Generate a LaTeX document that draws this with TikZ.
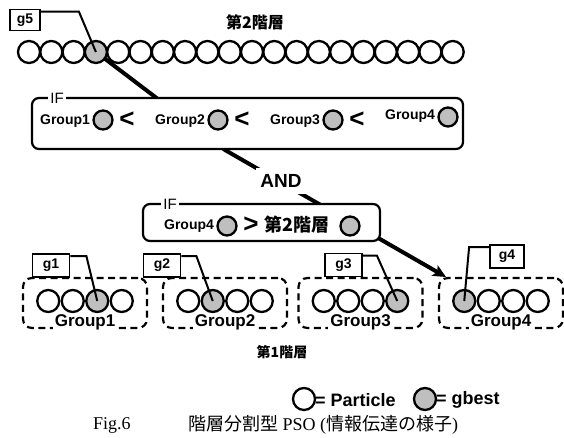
\documentclass[tikz,border=0pt]{standalone}
\usepackage{fontspec}
\setmainfont{Liberation Serif}
\newfontfamily\arial{Liberation Sans}
\newfontfamily\jp{Noto Sans CJK JP}
\usetikzlibrary{arrows.meta,calc}
\begin{document}
\begin{tikzpicture}[x=1pt,y=-1pt,
  fs/.style={font=\arial\bfseries\fontsize{#1}{#1}\selectfont, inner sep=0pt},
  jpfs/.style={font=\jp\bfseries\fontsize{#1}{#1}\selectfont, inner sep=0pt},
  part/.style={circle, draw, line width=2.3pt, minimum size=#1, inner sep=0pt, fill=white},
  part/.default=22pt,
  gbst/.style={part=#1, fill=gray!50},
  gbst/.default=22pt,
  gboxs/.style={draw, line width=1.8pt, minimum width=37pt, minimum height=23pt, inner sep=0pt, font=\arial\bfseries\fontsize{14}{14}\selectfont, fill=white},
  grp/.style={draw, rounded corners=9pt, line width=2.2pt, dash pattern=on 7pt off 4.5pt, minimum width=124pt, minimum height=50pt, inner sep=0pt},
  ifbox/.style={draw, rounded corners=7pt, line width=2.2pt, fill=white, inner sep=0pt},
  iflab/.style={fill=white, font=\arial\fontsize{15}{15}\selectfont, inner sep=2pt},
  gline/.style={line width=2pt},
  bigarrow/.style={line width=4pt, -{Stealth[length=13pt,width=12pt,inset=3pt]}},
]
\useasboundingbox (0,0) rectangle (564,438);

% main thick arrow (drawn first, hidden behind boxes)
\coordinate (bend) at (225,150);
\coordinate (tip) at (446,277);
\node[inner sep=0pt] (start) at (96,52) {};
\draw[bigarrow] (start.center) -- (bend) -- (tip);

% top level particles
\foreach \i in {0,...,19}{
  \ifnum\i=3
    \node[gbst] (t\i) at (29+22.3*\i,52) {};
  \else
    \node[part] (t\i) at (29+22.3*\i,52) {};
  \fi
}
\node[jpfs=16] (lv2) at (255,22) {第2階層};

% g5
\node[gboxs, minimum width=30pt, minimum height=21pt] (g5) at (25,20) {g5};
\draw[gline] ([yshift=-3pt]g5.north east) -- ++(38,0) -- (t3.center);

% IF box 1
\node[ifbox, minimum width=431pt, minimum height=51pt] (B1) at (247.5,123.5) {};
\node[iflab] (if1) at (57,98) {IF};
\foreach \k/\g in {0/1,1/2,2/3,3/4}{
  \node[fs=14] (c1t\g) at (65+115*\k, {\k==3 ? 116 : 121}) {Group\g};
  \node[gbst=19pt] (c1c\g) at (103+115*\k, {\k==3 ? 117 : 120}) {};
}
\foreach \k in {0,1,2}{
  \node[fs=26] (lt\k) at (127+115*\k,120) {<};
}

% AND
\node[fs=19, fill=white, inner xsep=4pt, inner ysep=6pt] (and) at (281,181) {AND};

% IF box 2
\node[ifbox, minimum width=237pt, minimum height=37pt] (B2) at (261.5,222.5) {};
\node[iflab] (if2) at (170,204) {IF};
\node[fs=14] (c2t) at (189,226) {Group4};
\node[gbst=19pt] (c2c1) at (227,226) {};
\node[fs=26] (gt) at (251,225) {>};
\node[jpfs=18] (c2lv) at (297,225) {第2階層};
\node[gbst=19pt] (c2c2) at (350,226) {};

% groups
\foreach \g/\cx/\b in {1/85/3,2/225/2,3/360.5/4,4/501/1}{
  \node[grp] (G\g) at (\cx,303) {};
  \node[fs=17, fill=white, inner sep=2pt] (G\g lab) at (\cx,322) {Group\g};
  \foreach \j in {1,...,4}{
    \ifnum\j=\b
      \node[gbst=22pt] (G\g c\j) at (\cx-36.75+24.5*\j-24.5,301) {};
    \else
      \node[part=22pt] (G\g c\j) at (\cx-36.75+24.5*\j-24.5,301) {};
    \fi
  }
}

% g boxes
\node[gboxs] (g1) at (51,265.5) {g1};
\node[gboxs] (g2) at (162,265.5) {g2};
\node[gboxs] (g3) at (343.5,265) {g3};
\node[gboxs, minimum width=34pt] (g4) at (507,256.5) {g4};
\draw[gline] ([yshift=-3pt]g1.north east) -- ++(16,0) -- (G1c3.center);
\draw[gline] ([yshift=-3pt]g2.north east) -- ++(15,0) -- (G2c2.center);
\draw[gline] ([yshift=-3pt]g3.north east) -- ++(14,0) -- (G3c4.center);
\draw[gline] ([yshift=-3pt]g4.north west) -- ++(-20,0) -- (G4c1.center);

\node[jpfs=14] (lv1) at (282,352) {第1階層};

% legend
\node[part=22pt] (lp) at (304,399) {};
\node[fs=18, anchor=west] (lpt) at (315,400) {= Particle};
\node[gbst=22pt] (lg) at (425,399) {};
\node[fs=18, anchor=west] (lgt) at (436,400) {= gbest};

% caption
\node[font=\fontsize{18}{18}\selectfont, anchor=west, inner sep=0pt] (fig) at (93,425) {Fig.6};
\node[font=\fontsize{18}{18}\selectfont, anchor=west, inner sep=0pt] (cap) at (188,425) {{\jp 階層分割型} PSO ({\jp 情報伝達の様子})};
\end{tikzpicture}
\end{document}
